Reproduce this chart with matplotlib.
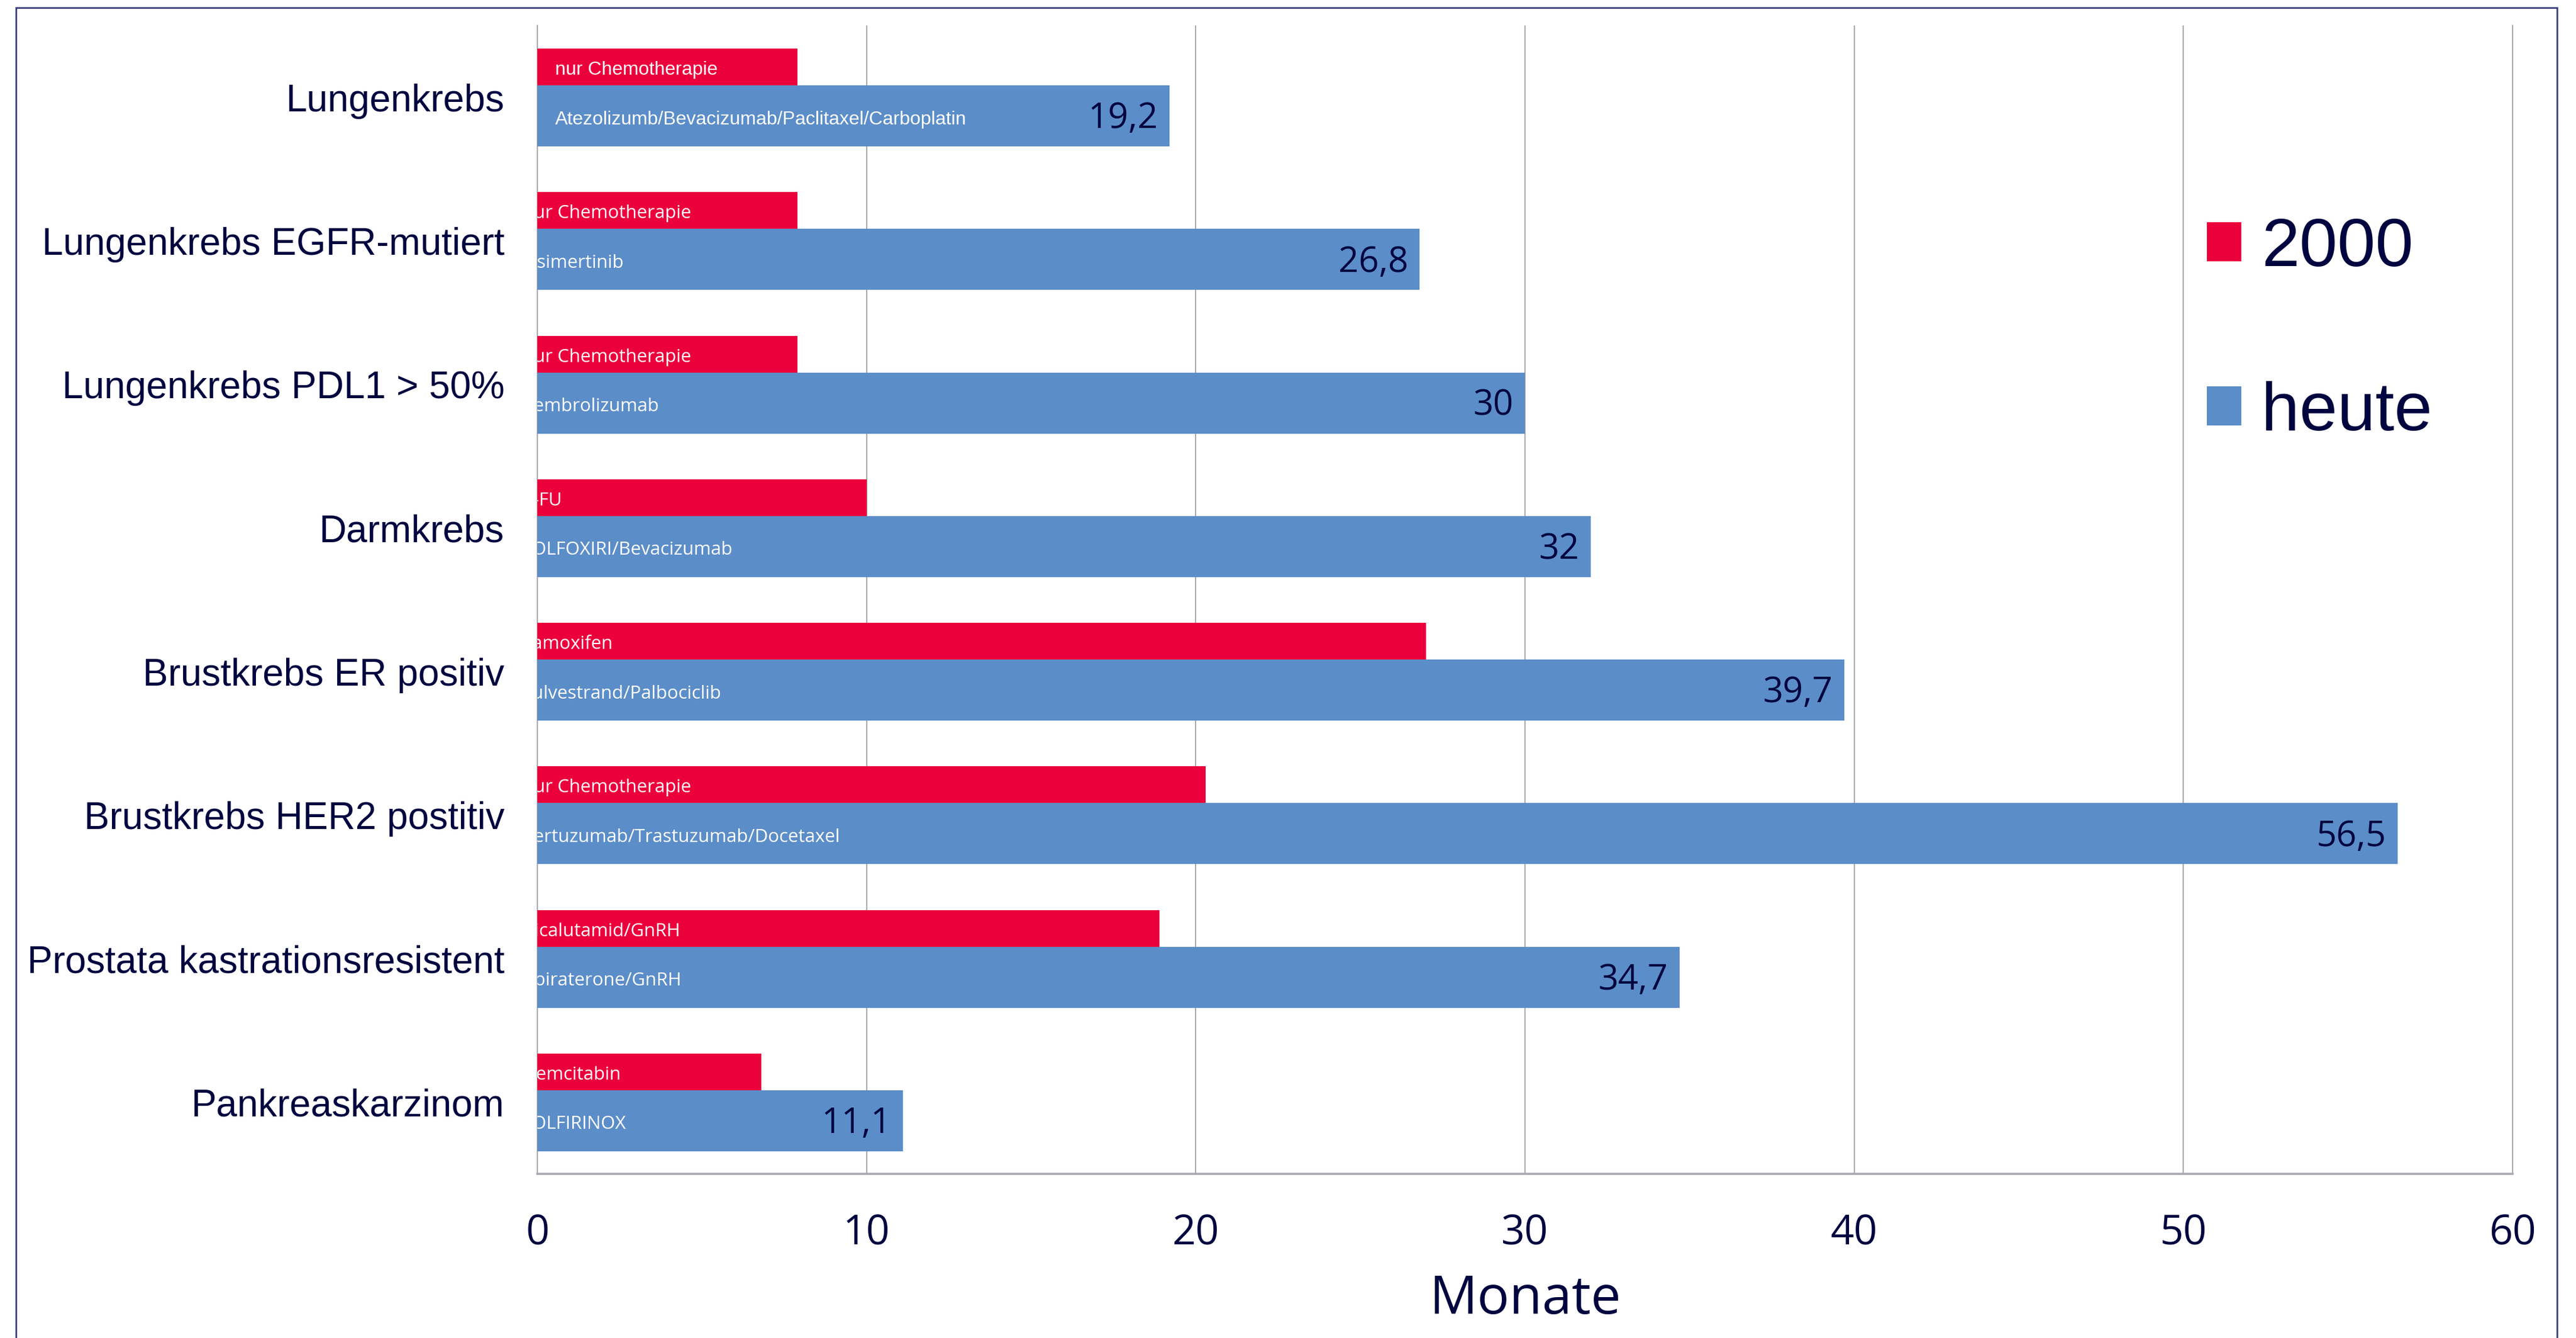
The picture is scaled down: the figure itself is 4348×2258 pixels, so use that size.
import matplotlib
matplotlib.use("Agg")
import matplotlib.pyplot as plt
import numpy as np
from matplotlib.patches import Rectangle, Patch

# ---------------- data ----------------
categories = ["Lungenkrebs", "Lungenkrebs EGFR-mutiert", "Lungenkrebs PDL1 > 50%",
              "Darmkrebs", "Brustkrebs ER positiv", "Brustkrebs HER2 postitiv",
              "Prostata kastrationsresistent", "Pankreaskarzinom"]
values_2000 = [7.9, 7.9, 7.9, 10.0, 27.0, 20.3, 18.9, 6.8]
values_heute = [19.2, 26.8, 30.0, 32.0, 39.7, 56.5, 34.7, 11.1]
therapy_2000 = ["nur Chemotherapie", "nur Chemotherapie", "nur Chemotherapie", "5-FU",
                "Tamoxifen", "nur Chemotherapie", "Bicalutamid/GnRH", "Gemcitabin"]
therapy_heute = ["Atezolizumb/Bevacizumab/Paclitaxel/Carboplatin", "Osimertinib",
                 "Pembrolizumab", "FOLFOXIRI/Bevacizumab", "Fulvestrand/Palbociclib",
                 "Pertuzumab/Trastuzumab/Docetaxel", "Abiraterone/GnRH", "FOLFIRINOX"]
series_labels = ["2000", "heute"]
x_ticks = [0, 10, 20, 30, 40, 50, 60]
x_label = "Monate"

# ---------------- style ----------------
RED = "#EB003C"
BLUE = "#5B8DC8"
NAVY = "#00053F"
GRID = "#A9A9B1"
W, H, DPI = 4348, 2258, 200

fig = plt.figure(figsize=(W / DPI, H / DPI), dpi=DPI)
ax = fig.add_axes([907 / W, 1 - 1981 / H, (4241 - 907) / W, (1981 - 43) / H])

y = np.arange(len(categories))
red_h, blue_h = 0.256, 0.426
red_off, blue_off = -0.21, 0.13

ax.barh(y + red_off, values_2000, height=red_h, color=RED, label=series_labels[0], zorder=3)
ax.barh(y + blue_off, values_heute, height=blue_h, color=BLUE, label=series_labels[1], zorder=3)

# text inside bars (first row has a margin, the rest start left of the axis and get clipped)
for i in range(len(categories)):
    start = 0.54 if i == 0 else -0.45
    fam = "Liberation Sans" if i == 0 else "Open Sans"
    fs = 11.5 if i == 0 else 11.2
    ax.text(start, y[i] + red_off + 0.02, therapy_2000[i], color="white", fontsize=fs,
            family=fam, va="center", ha="left", clip_on=True, zorder=4)
    ax.text(start, y[i] + blue_off + 0.025, therapy_heute[i], color="white", fontsize=fs,
            family=fam, va="center", ha="left", clip_on=True, zorder=4)
    lab = f"{values_heute[i]:g}".replace(".", ",")
    ax.text(values_heute[i] - 0.35, y[i] + blue_off + 0.02, lab, color=NAVY,
            fontsize=21.5, family="Open Sans", va="center", ha="right", zorder=4)

ax.set_xlim(0, 60)
ax.set_ylim(len(categories) - 0.5, -0.5)
ax.set_xticks(x_ticks)
ax.set_xticklabels([str(t) for t in x_ticks], family="Open Sans", fontsize=25, color=NAVY)
ax.set_yticks(y)
ax.set_yticklabels(categories, family="Liberation Sans", fontsize=23, color=NAVY)
ax.tick_params(axis="x", length=0, pad=24)
ax.tick_params(axis="y", length=0, pad=20)
ax.set_xlabel(x_label, family="Open Sans", fontsize=32.5, color=NAVY, labelpad=11)

ax.grid(axis="x", color=GRID, linewidth=0.75, zorder=0)
ax.set_axisbelow(True)
ax.spines["top"].set_visible(False)
ax.spines["right"].set_color(GRID)
ax.spines["right"].set_linewidth(0.75)
ax.spines["left"].set_color(GRID)
ax.spines["left"].set_linewidth(0.75)
ax.spines["bottom"].set_color(GRID)
ax.spines["bottom"].set_linewidth(1.3)

handles = [Patch(facecolor=RED, edgecolor="none"), Patch(facecolor=BLUE, edgecolor="none")]
leg = fig.legend(handles, series_labels, loc="center left",
                 bbox_to_anchor=(3725 / W, 1 - 558 / H), frameon=False,
                 prop={"family": "Liberation Sans", "size": 41.5},
                 handlelength=0.5, handleheight=0.5, handletextpad=0.3,
                 labelspacing=1.47, borderpad=0, borderaxespad=0)
for t in leg.get_texts():
    t.set_color(NAVY)

# outer frame
fig.patches.append(Rectangle((27 / W, -0.05), (4316 - 27) / W, 1.05 - 13 / H,
                             transform=fig.transFigure, fill=False,
                             edgecolor="#3A3F7E", linewidth=1.0))

fig.savefig("out.png", dpi=DPI)
